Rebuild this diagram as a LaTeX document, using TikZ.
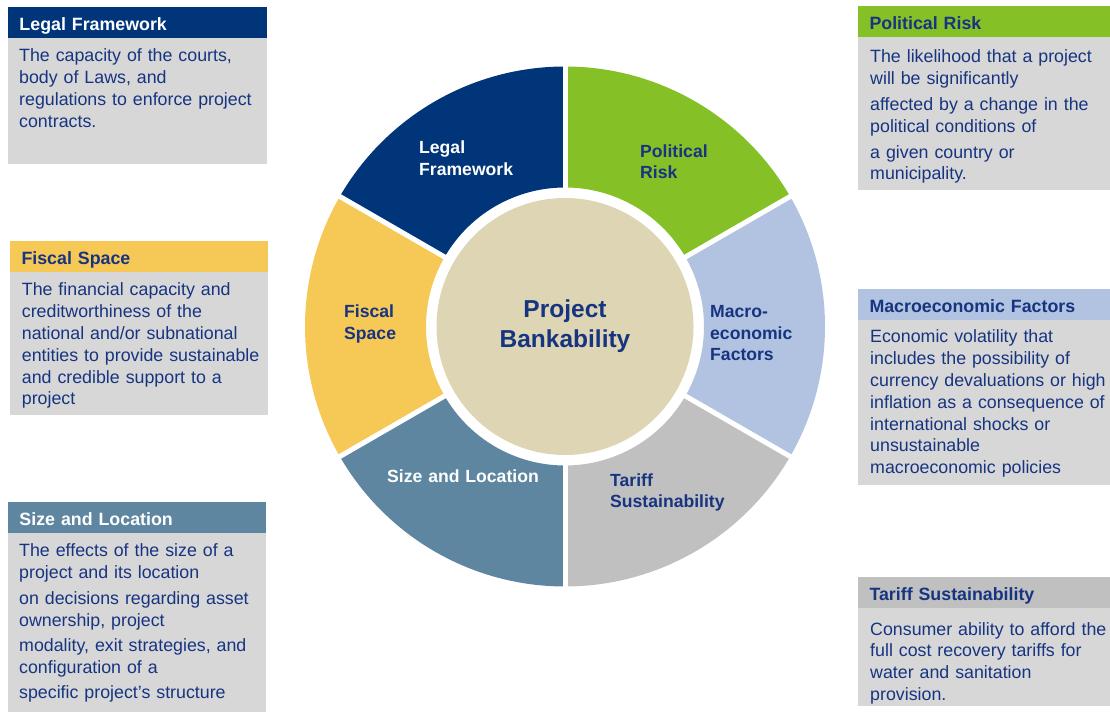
\documentclass[tikz,border=0pt]{standalone}
\usepackage{fontspec}
\setmainfont{Liberation Sans}
\usetikzlibrary{positioning, calc}

\definecolor{legalblue}{RGB}{0,53,122}
\definecolor{politicalgreen}{RGB}{134,192,39}
\definecolor{macroblue}{RGB}{177,195,225}
\definecolor{tariffgray}{RGB}{192,192,192}
\definecolor{sizeblue}{RGB}{94,134,160}
\definecolor{fiscalyellow}{RGB}{246,200,86}
\definecolor{hubbeige}{RGB}{221,213,179}
\definecolor{boxgray}{RGB}{215,215,215}
\definecolor{ink}{RGB}{22,52,128}

\begin{document}
\begin{tikzpicture}[
        x=1pt, y=1pt,
        hdr/.style={anchor=north west, minimum height=31pt, inner xsep=11.5pt, inner ysep=0pt, outer sep=0pt, text height=16pt, text depth=0pt, align=left, font=\fontsize{17.8}{21.8}\selectfont\bfseries},
        bodybox/.style={fill=boxgray, inner sep=0pt, outer sep=0pt},
        bodytxt/.style={anchor=base west, text width=250pt, inner sep=0pt, align=left, text=ink, font=\fontsize{17.8}{21.8}\selectfont},
        seglabel/.style={anchor=base west, text width=160pt, inner sep=0pt, align=left, font=\fontsize{17.6}{21.3}\selectfont\bfseries},
        gap/.style={white, line width=5pt}
    ]
        \useasboundingbox (0,0) rectangle (1110,712);

        % ring of six factors
        \coordinate (c) at (565,385.5);
        \foreach \a/\col in {90/legalblue, 150/fiscalyellow, 210/sizeblue, 270/tariffgray, 330/macroblue, 30/politicalgreen}
            \fill[\col] ($(c)+(\a:139)$) arc[start angle=\a, end angle=\a+60, radius=139]
                -- ($(c)+(\a+60:260)$) arc[start angle=\a+60, end angle=\a, radius=260] -- cycle;
        \foreach \a in {30,90,...,330}
            \draw[gap] ($(c)+(\a:134)$) -- ($(c)+(\a:265)$);

        \node[circle, fill=hubbeige, minimum size=257pt, inner sep=0pt, align=center, text=ink, font=\fontsize{24.5}{30.3}\selectfont\bfseries] (hub) at (c) {Project\\Bankability};

        \node[seglabel, text=white] (legallbl)     at (419,558)   {Legal\\Framework};
        \node[seglabel, text=ink]   (politicallbl) at (640,554.5) {Political\\Risk};
        \node[seglabel, text=ink]   (macrolbl)     at (710,394)   {Macro-\\economic\\Factors};
        \node[seglabel, text=ink]   (tarifflbl)    at (610,225.5) {Tariff\\Sustainability};
        \node[seglabel, text=white, anchor=base, align=center] (sizelbl) at (463,229) {Size and Location};
        \node[seglabel, text=ink]   (fiscallbl)    at (344,394)   {Fiscal\\Space};

        % left column
        \node[hdr, fill=legalblue, text=white, text width=236pt] (legalhdr) at (8,705) {Legal Framework};
        \node[bodybox, minimum width=259pt, minimum height=126pt, below=0pt of legalhdr] (legalbox) {};
        \node[bodytxt] (legaltxt) at ([xshift=11pt, yshift=-24pt]legalbox.north west)
            {The capacity of the courts,\\body of Laws, and\\regulations to enforce project\\contracts.};

        \node[hdr, fill=fiscalyellow, text=ink, text width=235pt] (fiscalhdr) at (10,471) {Fiscal Space};
        \node[bodybox, minimum width=258pt, minimum height=143pt, below=0pt of fiscalhdr] (fiscalbox) {};
        \node[bodytxt] (fiscaltxt) at ([xshift=11.7pt, yshift=-24pt]fiscalbox.north west)
            {The financial capacity and\\creditworthiness of the\\national and/or subnational\\entities to provide sustainable\\and credible support to a\\project};

        \node[hdr, fill=sizeblue, text=white, text width=235pt] (sizehdr) at (8,210) {Size and Location};
        \node[bodybox, minimum width=258pt, minimum height=179pt, below=0pt of sizehdr] (sizebox) {};
        \node[bodytxt] (sizetxt) at ([xshift=11pt, yshift=-24pt]sizebox.north west)
            {The effects of the size of a\\project and its location\\[4pt]on decisions regarding asset\\ownership, project\\[3pt]modality, exit strategies, and\\configuration of a\\[4pt]specific project’s structure};

        % right column
        \node[hdr, fill=politicalgreen, text=ink, text width=229pt] (politicalhdr) at (858,706) {Political Risk};
        \node[bodybox, minimum width=252pt, minimum height=153pt, below=0pt of politicalhdr] (politicalbox) {};
        \node[bodytxt] (politicaltxt) at ([xshift=12pt, yshift=-26pt]politicalbox.north west)
            {The likelihood that a project\\will be significantly\\[4pt]affected by a change in the\\political conditions of\\[4pt]a given country or\\municipality.};

        \node[hdr, fill=macroblue, text=ink, text width=229pt] (macrohdr) at (858,423) {Macroeconomic Factors};
        \node[bodybox, minimum width=252pt, minimum height=165pt, below=0pt of macrohdr] (macrobox) {};
        \node[bodytxt] (macrotxt) at ([xshift=12pt, yshift=-23pt]macrobox.north west)
            {Economic volatility that\\includes the possibility of\\currency devaluations or high\\inflation as a consequence of\\international shocks or\\unsustainable\\macroeconomic policies};

        \node[hdr, fill=tariffgray, text=ink, text width=229pt] (tariffhdr) at (858,135) {Tariff Sustainability};
        \node[bodybox, minimum width=252pt, minimum height=98pt, below=0pt of tariffhdr] (tariffbox) {};
        \node[bodytxt] (tarifftxt) at ([xshift=12pt, yshift=-27pt]tariffbox.north west)
            {Consumer ability to afford the\\full cost recovery tariffs for\\water and sanitation\\provision.};
    \end{tikzpicture}
\end{document}
